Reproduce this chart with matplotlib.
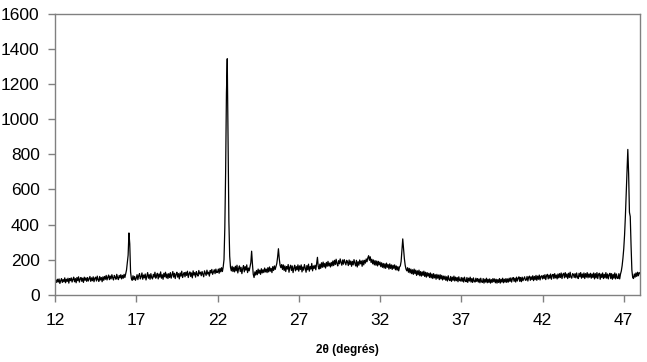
import numpy as np
from matplotlib import pyplot as plt

plt.rcParams['font.family'] = ['Liberation Sans', 'DejaVu Sans']

# intensities, one row per degree of 2theta, step 0.05 deg
i12 = [66, 84, 70, 88, 72, 90, 64, 80, 92, 70, 86, 74, 96, 68, 88, 76, 94, 66, 92, 80]
i13 = [96, 72, 88, 100, 74, 92, 68, 98, 80, 102, 72, 90, 98, 76, 94, 70, 100, 82, 96, 76]
i14 = [98, 78, 92, 104, 76, 96, 80, 102, 74, 94, 100, 78, 106, 86, 76, 104, 84, 98, 74, 102]
i15 = [82, 104, 88, 110, 84, 100, 112, 86, 106, 90, 114, 96, 84, 110, 100, 88, 116, 98, 86, 110]
i16 = [96, 114, 90, 110, 94, 116, 98, 118, 140, 185, 225, 352, 290, 130, 92, 82, 108, 86, 104, 82]
i17 = [94, 114, 86, 108, 120, 90, 102, 124, 88, 112, 96, 118, 84, 106, 126, 94, 114, 88, 120, 98]
i18 = [90, 116, 100, 128, 94, 110, 122, 90, 118, 100, 130, 94, 114, 88, 122, 102, 128, 96, 118, 92]
i19 = [120, 98, 126, 94, 114, 132, 100, 122, 92, 116, 128, 100, 120, 90, 124, 106, 134, 98, 114, 126]
i20 = [102, 128, 110, 134, 98, 120, 130, 104, 124, 96, 136, 112, 126, 100, 132, 116, 106, 138, 118, 128]
i21 = [108, 132, 116, 102, 136, 122, 110, 140, 118, 128, 106, 138, 124, 144, 116, 130, 142, 120, 146, 126]
i22 = [128, 146, 122, 150, 130, 154, 132, 158, 200, 380, 700, 1150, 1345, 900, 420, 220, 156, 136, 162, 132]
i23 = [156, 130, 162, 136, 168, 124, 150, 164, 132, 156, 120, 148, 166, 130, 160, 140, 170, 126, 152, 136]
i24 = [158, 182, 248, 175, 116, 98, 130, 112, 138, 114, 146, 122, 140, 116, 148, 124, 142, 126, 152, 130]
i25 = [146, 126, 154, 130, 158, 134, 150, 126, 160, 138, 164, 144, 162, 178, 215, 262, 205, 168, 154, 172]
i26 = [144, 170, 138, 164, 132, 160, 146, 172, 128, 156, 168, 138, 164, 126, 152, 168, 136, 160, 142, 170]
i27 = [134, 164, 144, 170, 130, 158, 140, 172, 152, 128, 166, 142, 174, 134, 160, 146, 178, 136, 164, 150]
i28 = [168, 142, 178, 213, 160, 146, 174, 150, 182, 156, 186, 158, 178, 152, 184, 162, 190, 164, 180, 158]
i29 = [184, 164, 192, 166, 196, 172, 202, 178, 164, 194, 176, 204, 184, 168, 198, 174, 200, 186, 170, 196]
i30 = [186, 166, 198, 172, 192, 162, 190, 170, 200, 180, 164, 196, 158, 188, 168, 198, 176, 192, 162, 196]
i31 = [170, 196, 180, 204, 188, 210, 222, 196, 216, 184, 202, 176, 198, 170, 194, 168, 192, 164, 190, 170]
i32 = [186, 160, 182, 156, 178, 152, 176, 150, 180, 156, 172, 146, 176, 150, 170, 144, 168, 150, 170, 142]
i33 = [164, 140, 160, 136, 158, 164, 190, 250, 318, 265, 205, 168, 146, 136, 154, 128, 150, 124, 146, 120]
i34 = [142, 116, 146, 120, 140, 110, 136, 114, 140, 108, 132, 106, 130, 110, 134, 104, 128, 100, 126, 106]
i35 = [122, 98, 124, 96, 118, 92, 120, 96, 114, 88, 116, 94, 112, 86, 114, 90, 110, 84, 106, 88]
i36 = [106, 82, 102, 78, 108, 86, 80, 104, 76, 100, 82, 106, 78, 100, 80, 98, 74, 102, 82, 78]
i37 = [98, 76, 96, 72, 100, 80, 74, 98, 70, 94, 78, 100, 72, 92, 70, 96, 76, 72, 94, 76]
i38 = [92, 72, 90, 68, 94, 74, 70, 92, 66, 88, 72, 94, 68, 88, 70, 90, 66, 86, 70, 92]
i39 = [74, 90, 68, 88, 66, 86, 70, 92, 66, 88, 72, 94, 68, 88, 72, 92, 70, 90, 72, 94]
i40 = [76, 96, 72, 92, 98, 76, 94, 72, 100, 78, 94, 102, 76, 98, 74, 100, 80, 92, 102, 82]
i41 = [84, 104, 78, 100, 106, 82, 102, 86, 108, 80, 104, 86, 110, 82, 106, 88, 112, 84, 104, 108]
i42 = [90, 110, 92, 114, 86, 108, 116, 90, 112, 94, 118, 88, 110, 116, 92, 120, 96, 112, 90, 118]
i43 = [96, 120, 98, 124, 92, 116, 122, 96, 126, 100, 118, 92, 122, 98, 128, 100, 94, 120, 116, 98]
i44 = [120, 96, 124, 100, 92, 122, 102, 126, 94, 118, 98, 124, 92, 120, 100, 126, 96, 118, 100, 122]
i45 = [94, 118, 98, 124, 90, 120, 96, 126, 92, 116, 122, 88, 118, 98, 124, 92, 116, 96, 126, 94]
i46 = [118, 90, 114, 122, 92, 120, 88, 116, 94, 124, 90, 118, 96, 92, 120, 90, 118, 135, 165, 208]
i47 = [262, 340, 445, 570, 700, 828, 690, 470, 445, 280, 140, 98, 92, 118, 100, 124, 104, 128, 108, 126]
i48 = [120]

rows = [i12, i13, i14, i15, i16, i17, i18, i19, i20, i21, i22, i23, i24, i25,
        i26, i27, i28, i29, i30, i31, i32, i33, i34, i35, i36, i37, i38, i39,
        i40, i41, i42, i43, i44, i45, i46, i47]
for r in rows:
    assert len(r) == 20, len(r)

start = 12.0
step = 0.05
intensity = np.concatenate(rows + [i48])
two_theta = start + step * np.arange(len(intensity))

xticks = [12, 17, 22, 27, 32, 37, 42, 47]
yticks = [0, 200, 400, 600, 800, 1000, 1200, 1400, 1600]

fig = plt.figure(figsize=(6.47, 3.62), dpi=100)
ax = fig.add_axes([55 / 647, 1 - 294.7 / 362, 585 / 647, 280.7 / 362])
ax.plot(two_theta, intensity, color="black", linewidth=0.9)

ax.set_xlim(12, 48)
ax.set_ylim(0, 1600)
ax.set_xticks(xticks)
ax.set_yticks(yticks)
for s in ax.spines.values():
    s.set_color("#808080")
    s.set_linewidth(1.0)
ax.tick_params(axis="both", colors="#808080", length=5, width=1.0,
               labelsize=12.5, labelcolor="black")
ax.tick_params(axis="y", pad=6)
ax.tick_params(axis="x", pad=8)
ax.set_xlabel("2θ (degrés)", fontsize=8.5, fontweight="bold", labelpad=12)

fig.savefig("out.png", dpi=100)
